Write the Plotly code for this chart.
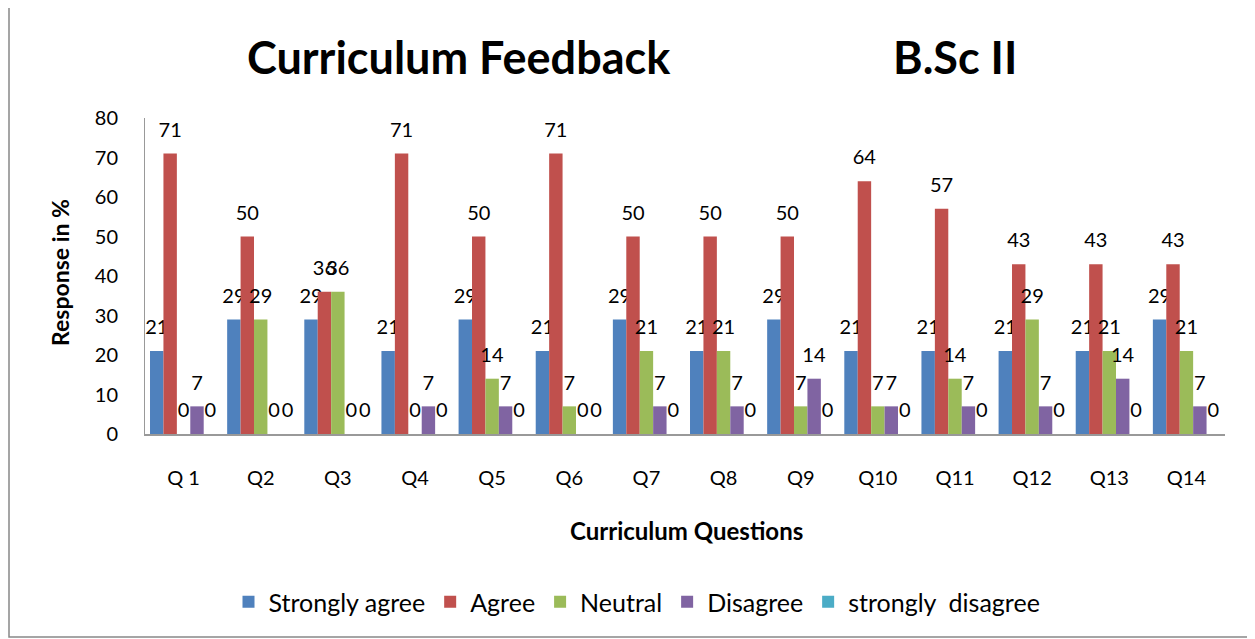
import plotly.graph_objects as go

categories = ["Q 1", "Q2", "Q3", "Q4", "Q5", "Q6", "Q7", "Q8", "Q9", "Q10", "Q11", "Q12", "Q13", "Q14"]
strongly_agree = [21, 29, 29, 21, 29, 21, 29, 21, 29, 21, 21, 21, 21, 29]
agree = [71, 50, 36, 71, 50, 71, 50, 50, 50, 64, 57, 43, 43, 43]
neutral = [0, 29, 36, 0, 14, 7, 21, 21, 7, 7, 14, 29, 21, 21]
disagree = [7, 0, 0, 7, 7, 0, 7, 7, 14, 7, 7, 7, 14, 7]
strongly_disagree = [0, 0, 0, 0, 0, 0, 0, 0, 0, 0, 0, 0, 0, 0]

series = [
    ("Strongly agree", strongly_agree, "#4F81BD"),
    ("Agree", agree, "#C0504D"),
    ("Neutral", neutral, "#9BBB59"),
    ("Disagree", disagree, "#8064A2"),
    ("strongly  disagree", strongly_disagree, "#4BACC6"),
]

FONT = "Lato"
OFF = 8  # browser default body margin
W, H = 1255 - OFF, 639 - OFF
L, R, T, B = 145 - OFF, 30, 118 - OFF, 205
PW = W - L - R
PH = H - T - B


def py(pix):
    return (H - B - (pix - OFF)) / PH


def px(pix):
    return (pix - OFF - L) / PW


fig = go.Figure()
for name, vals, col in series:
    fig.add_trace(go.Bar(
        x=categories, y=vals, name=name, marker=dict(color=col, line=dict(width=0)),
        text=[f"<span style='font-size:20px'>{v}</span><br> " for v in vals],
        textposition="outside", cliponaxis=False, constraintext="none",
        textfont=dict(family=FONT, size=9, color="black"),
    ))

fig.update_layout(
    width=W, height=H,
    paper_bgcolor="white", plot_bgcolor="white",
    barmode="group", bargap=0.13, bargroupgap=0,
    margin=dict(l=L, r=R, t=T, b=B, autoexpand=False),
    font=dict(family=FONT, color="black"),
    showlegend=True,
    legend=dict(orientation="h", x=px(637), xanchor="center", y=py(602), yanchor="middle",
                font=dict(family=FONT, size=25), traceorder="normal"),
)
fig.update_xaxes(
    showline=True, linecolor="#999999", linewidth=2, ticks="", showgrid=False,
    automargin=False, ticklabelstandoff=25,
    tickfont=dict(family=FONT, size=20),
    title=dict(text=""),
)
fig.update_yaxes(
    range=[0, 80], dtick=10, showline=True, linecolor="#999999", linewidth=1,
    ticks="", showgrid=False, tickfont=dict(family=FONT, size=20), ticklabelstandoff=22,
    automargin=False, title=dict(text=""),
)
fig.add_annotation(text="<b>Curriculum Questions</b>", xref="paper", yref="paper",
                   x=px(686), y=py(530), showarrow=False,
                   font=dict(family=FONT, size=24), xanchor="center", yanchor="middle")
fig.add_annotation(text="<b>Response in %</b>", xref="paper", yref="paper",
                   x=px(60), y=py(273), showarrow=False, textangle=-90,
                   font=dict(family=FONT, size=23), xanchor="center", yanchor="middle")
fig.add_annotation(text="<b>Curriculum Feedback</b>", xref="paper", yref="paper",
                   x=px(459), y=py(57), showarrow=False,
                   font=dict(family=FONT, size=45), xanchor="center", yanchor="middle")
fig.add_annotation(text="<b>B.Sc II</b>", xref="paper", yref="paper",
                   x=px(955), y=py(57), showarrow=False,
                   font=dict(family=FONT, size=45), xanchor="center", yanchor="middle")
fig.add_shape(type="rect", xref="paper", yref="paper",
              x0=px(9), x1=px(1250), y0=py(637), y1=py(1),
              line=dict(color="#888888", width=1.5), fillcolor="rgba(0,0,0,0)", layer="below")

fig.write_html("out.html")
